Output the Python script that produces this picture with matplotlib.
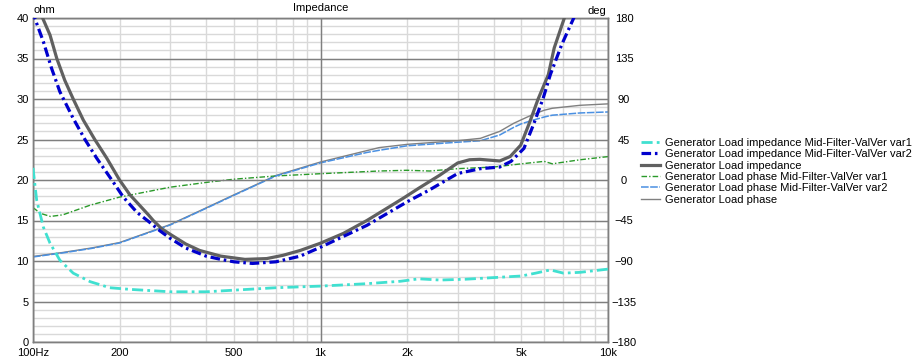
import matplotlib
matplotlib.use('Agg')
import matplotlib.pyplot as plt
from matplotlib.ticker import FixedLocator, FixedFormatter, MultipleLocator

plt.rcParams['font.family'] = ['Liberation Sans', 'DejaVu Sans']

# ---------------- data ----------------
f_var1 = [100, 103, 108.6, 114.6, 124, 138, 158, 185, 217, 300, 400, 500, 700, 1000,
          1450, 1900, 2200, 2600, 3200, 4000, 5000, 5600, 6300, 7000, 8000, 10000]
z_var1 = [21.5, 17.5, 14.2, 12.2, 10.1, 8.5, 7.45, 6.7, 6.5, 6.2, 6.2, 6.4, 6.7, 6.9,
          7.2, 7.5, 7.8, 7.65, 7.75, 7.95, 8.15, 8.5, 8.9, 8.5, 8.6, 9.0]

f_var2 = [100, 101.6, 108.6, 116, 124, 138, 151.6, 166.5, 188, 206, 230, 252, 277, 300,
          340, 400, 450, 500, 580, 700, 850, 1000, 1450, 2000, 2400, 3000, 3600, 4200,
          4600, 5100, 5500, 5950, 6300, 6900, 7600, 8000]
z_var2 = [41.0, 39.9, 37.1, 33.8, 30.9, 27.6, 25.0, 22.7, 20.0, 17.9, 16.0, 14.9, 13.7, 12.8,
          11.6, 10.6, 10.2, 9.9, 9.7, 9.9, 10.6, 11.7, 14.4, 17.3, 18.8, 20.8, 21.4, 21.6,
          22.3, 23.9, 26.8, 30.1, 33.0, 36.7, 40.0, 42.5]

f_tot = [100, 108, 114.6, 121, 129, 138, 149.6, 164, 180.5, 200, 217, 252, 262, 280, 300,
         340, 380, 450, 546, 650, 740, 850, 1000, 1200, 1450, 1700, 1950, 2200, 2600, 3000,
         3300, 3580, 4200, 4570, 4970, 5350, 5700, 6200, 6500, 7050, 7500]
z_tot = [42.5, 40.0, 37.9, 35.0, 32.3, 30.0, 27.4, 25.0, 22.7, 20.0, 18.2, 15.7, 15.0, 14.0, 13.3,
         12.1, 11.3, 10.6, 10.2, 10.3, 10.7, 11.3, 12.2, 13.4, 15.0, 16.5, 17.8, 19.0, 20.6, 22.1,
         22.5, 22.55, 22.35, 22.9, 24.3, 27.2, 29.9, 33.0, 36.3, 40.0, 43.0]

f_ph1 = [100, 106, 115, 127, 158, 200, 300, 400, 500, 700, 1000, 1600, 2000, 2400, 3000,
         4000, 5000, 6000, 6400, 8000, 10000]
p_ph1 = [-30.6, -37, -40.5, -38.7, -28, -19, -8, -2.7, 0.9, 4.5, 7, 10, 10.8, 10, 12.6,
         14.4, 18, 20.7, 18, 22.5, 26]

f_ph2 = [100, 127, 160, 200, 250, 300, 400, 500, 700, 1000, 1450, 1600, 2000, 3000, 3600,
         4000, 4200, 4700, 5000, 5500, 6000, 6400, 8000, 10000]
p_ph2 = [-85.5, -81, -76, -70, -59, -50, -31.5, -17, 4.5, 19, 30.6, 33, 38, 42, 43.6,
         48, 50, 58.5, 62.5, 66.6, 70, 72, 74.5, 75.6]

f_pht = [100, 127, 160, 200, 250, 300, 400, 500, 700, 1000, 1600, 2000, 3000, 3600, 4200,
         4700, 5000, 5500, 6000, 6400, 8000, 10000]
p_pht = [-85, -80.5, -75.5, -69.5, -58.5, -49.5, -31, -16.5, 5, 20, 36, 39.6, 43.7, 46.3, 54,
         63, 67, 73, 77.5, 79.7, 83, 84.6]

labels = ["Generator Load impedance Mid-Filter-ValVer var1",
          "Generator Load impedance Mid-Filter-ValVer var2",
          "Generator Load impedance",
          "Generator Load phase Mid-Filter-ValVer var1",
          "Generator Load phase Mid-Filter-ValVer var2",
          "Generator Load phase"]

major_x = [100, 1000, 10000]
major_x_labels = ["100Hz", "1k", "10k"]
minor_x = [200, 300, 400, 500, 600, 700, 800, 900,
           2000, 3000, 4000, 5000, 6000, 7000, 8000, 9000]
minor_x_labels = ["200", "", "", "500", "", "", "", "",
                  "2k", "", "", "5k", "", "", "", ""]

# ---------------- figure ----------------
W, H = 922, 360
fig = plt.figure(figsize=(W / 100, H / 100), dpi=100)
L, R, B, T = 33, 608, 342, 18
rect = [L / W, 1 - B / H, (R - L) / W, (B - T) / H]

axp = fig.add_axes(rect)              # phase axis (bottom, minor grid)
axz = fig.add_axes(rect, sharex=axp)  # impedance axis (top, major grid)
axz.patch.set_visible(False)

major_c = '#7f7f7f'
minor_c = '#d9d9d9'
fs = 8

axp.set_xscale('log')
axp.set_xlim(100, 10000)
axp.set_ylim(-180, 180)
axz.set_ylim(0, 40)

axp.xaxis.set_major_locator(FixedLocator(major_x))
axp.xaxis.set_major_formatter(FixedFormatter(major_x_labels))
axp.xaxis.set_minor_locator(FixedLocator(minor_x))
axp.xaxis.set_minor_formatter(FixedFormatter(minor_x_labels))
axp.yaxis.set_major_locator(MultipleLocator(45))
axp.yaxis.set_minor_locator(MultipleLocator(9))
axp.yaxis.tick_right()

axp.grid(True, which='minor', color=minor_c, lw=1.0)
axp.grid(True, which='major', color=minor_c, lw=1.0)
axp.set_axisbelow(True)

axp.tick_params(axis='both', which='both', length=0, labelsize=fs, colors='black')
axp.tick_params(axis='x', which='both', pad=4)
axp.tick_params(axis='y', which='major', pad=11.5)
for t in axp.get_yticklabels():
    t.set_horizontalalignment('center')

axz.yaxis.set_major_locator(MultipleLocator(5))
axz.tick_params(axis='y', length=0, labelsize=fs, pad=3, colors='black')
axz.tick_params(axis='x', which='both', length=0, labelbottom=False)
axz.yaxis.tick_left()
axz.grid(True, which='major', color=major_c, lw=1.0)
axz.set_axisbelow(True)

for a in (axp, axz):
    for s in a.spines.values():
        s.set_color(major_c)
        s.set_linewidth(1.0)

# phase curves
h_pht, = axp.plot(f_pht, p_pht, color='#808080', lw=1.0, zorder=2)
h_ph1, = axp.plot(f_ph1, p_ph1, color='#2a9a2a', lw=1.0, dashes=(4, 1.5, 1, 1.5), zorder=3)
h_ph2, = axp.plot(f_ph2, p_ph2, color='#4a90e2', lw=1.1, dashes=(5, 1), zorder=3)

# impedance curves
h_z1, = axz.plot(f_var1, z_var1, color='#40e0d0', lw=2.0, dashes=(4, 1.5, 1, 1.5), zorder=3)
h_zt, = axz.plot(f_tot, z_tot, color='#606060', lw=2.3, zorder=3)
h_z2, = axz.plot(f_var2, z_var2, color='#0000cd', lw=2.3, dashes=(3, 1.2, 0.8, 1.2), zorder=4)

fig.text((L + R) / 2 / W, 1 - 8 / H, "Impedance", ha='center', va='center', fontsize=fs)
fig.text((L + 1) / W, 1 - 10 / H, "ohm", ha='left', va='center', fontsize=fs)
fig.text((R - 2) / W, 1 - 11 / H, "deg", ha='right', va='center', fontsize=fs)

handles = [h_z1, h_z2, h_zt, h_ph1, h_ph2, h_pht]
fig.legend(handles, labels, loc='upper left',
           bbox_to_anchor=(641 / W, 1 - 138 / H), bbox_transform=fig.transFigure,
           frameon=False, fontsize=fs, borderpad=0, borderaxespad=0,
           handlelength=1.7, handletextpad=0.45, labelspacing=0.12)

fig.savefig('out.png', dpi=100)
